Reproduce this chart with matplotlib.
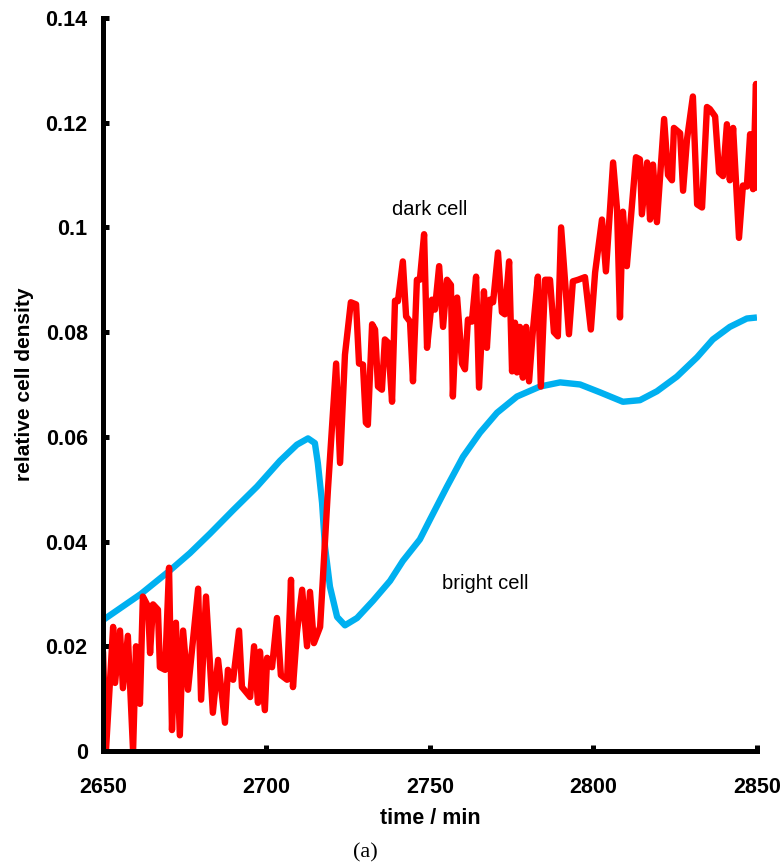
"""
Relative cell density of a dark and a bright cell over time, redrawn from a figure.
"""
import matplotlib
matplotlib.use("Agg")
import matplotlib.pyplot as plt

# dark cell (red)
dark_time = [
    2650.0, 2650.9, 2653.1, 2653.7, 2655.2, 2656.1, 2657.6, 2659.2, 2660.1, 2661.3,
    2662.2, 2663.8, 2664.4, 2665.3, 2666.8, 2667.4, 2669.0, 2670.2, 2671.1, 2672.3,
    2673.5, 2674.5, 2676.0, 2679.1, 2680.0, 2681.5, 2683.6, 2685.2, 2687.3, 2688.2,
    2689.8, 2691.6, 2692.5, 2695.0, 2696.2, 2697.4, 2698.0, 2699.5, 2700.2, 2701.7,
    2703.2, 2704.4, 2706.3, 2707.5, 2708.1, 2709.3, 2710.9, 2712.4, 2713.3, 2714.5,
    2716.4, 2718.8, 2721.3, 2722.5, 2724.0, 2725.8, 2727.4, 2728.3, 2729.5, 2730.4,
    2731.0, 2732.3, 2733.2, 2734.1, 2735.3, 2736.2, 2737.2, 2738.4, 2739.3, 2740.2,
    2741.7, 2742.7, 2743.9, 2744.8, 2746.0, 2746.9, 2748.2, 2749.1, 2750.6, 2751.5,
    2752.8, 2754.0, 2755.2, 2756.4, 2757.0, 2758.3, 2759.8, 2760.7, 2761.6, 2762.8,
    2764.1, 2765.0, 2766.5, 2767.4, 2768.3, 2769.3, 2770.8, 2772.0, 2772.9, 2774.2,
    2775.1, 2776.0, 2776.6, 2777.5, 2778.4, 2779.4, 2780.3, 2781.5, 2783.0, 2783.9,
    2785.2, 2786.7, 2787.9, 2789.1, 2790.1, 2792.5, 2793.7, 2795.3, 2797.4, 2799.2,
    2800.5, 2802.6, 2803.8, 2806.0, 2807.2, 2808.1, 2809.0, 2810.2, 2813.0, 2814.2,
    2814.8, 2816.4, 2817.3, 2818.2, 2819.4, 2821.6, 2822.8, 2824.0, 2824.6, 2826.5,
    2827.4, 2828.6, 2830.4, 2831.7, 2833.2, 2834.7, 2835.6, 2837.2, 2838.4, 2839.6,
    2840.8, 2841.7, 2842.7, 2844.5, 2845.7, 2846.9, 2847.9, 2848.8, 2849.7, 2850.0,
]
dark_density = [
    0.019, 0.000, 0.0237, 0.013, 0.023, 0.012, 0.022, 0.000, 0.020, 0.009,
    0.0295, 0.0276, 0.0187, 0.028, 0.027, 0.016, 0.0155, 0.035, 0.004, 0.0245,
    0.003, 0.023, 0.0117, 0.031, 0.0098, 0.0295, 0.0073, 0.0174, 0.0054, 0.0155,
    0.0136, 0.023, 0.0122, 0.0103, 0.020, 0.0092, 0.019, 0.0078, 0.0178, 0.016,
    0.0254, 0.0145, 0.0136, 0.0327, 0.0122, 0.0226, 0.0308, 0.020, 0.0304, 0.0206,
    0.0237, 0.050, 0.074, 0.055, 0.0757, 0.0857, 0.0853, 0.074, 0.0738, 0.0627,
    0.0623, 0.0815, 0.0805, 0.0696, 0.069, 0.0786, 0.078, 0.0667, 0.086, 0.0859,
    0.0935, 0.083, 0.082, 0.0706, 0.090, 0.090, 0.0987, 0.077, 0.0862, 0.0843,
    0.0926, 0.081, 0.090, 0.089, 0.0677, 0.0866, 0.074, 0.0729, 0.0824, 0.082,
    0.0906, 0.0694, 0.0878, 0.077, 0.0862, 0.0857, 0.0952, 0.0838, 0.0834, 0.0935,
    0.0725, 0.0818, 0.0723, 0.081, 0.0713, 0.081, 0.0706, 0.0805, 0.0906, 0.0696,
    0.090, 0.090, 0.080, 0.0792, 0.100, 0.0796, 0.0897, 0.090, 0.0905, 0.0805,
    0.0914, 0.1015, 0.0916, 0.1124, 0.1035, 0.0828, 0.103, 0.0926, 0.1134, 0.113,
    0.1025, 0.1124, 0.1015, 0.112, 0.101, 0.1207, 0.110, 0.109, 0.119, 0.118,
    0.107, 0.1168, 0.125, 0.1044, 0.1038, 0.123, 0.1226, 0.1212, 0.1105, 0.1098,
    0.1197, 0.109, 0.119, 0.098, 0.108, 0.1078, 0.1178, 0.1073, 0.1274, 0.107,
]

# bright cell (blue)
bright_time = [
    2650.0, 2661.6, 2670.5, 2676.6, 2682.7, 2689.8, 2697.1, 2704.1, 2709.3, 2712.7,
    2714.8, 2715.7, 2717.0, 2717.9, 2719.4, 2721.6, 2724.0, 2727.7, 2732.6, 2737.8,
    2741.7, 2746.9, 2750.0, 2755.2, 2760.1, 2765.3, 2770.5, 2776.6, 2783.6, 2789.8,
    2795.9, 2802.0, 2809.0, 2814.2, 2819.4, 2825.5, 2831.7, 2836.5, 2841.7, 2846.9,
    2850.0,
]
bright_density = [
    0.025, 0.0300, 0.0345, 0.0378, 0.0415, 0.046, 0.0505, 0.0554, 0.0585, 0.0597,
    0.0588, 0.055, 0.0474, 0.039, 0.0314, 0.0256, 0.024, 0.0254, 0.0287, 0.0325,
    0.0363, 0.0404, 0.0442, 0.0505, 0.0562, 0.0608, 0.0646, 0.0677, 0.0696, 0.0704,
    0.070, 0.0685, 0.0667, 0.067, 0.0687, 0.0715, 0.0752, 0.0786, 0.081, 0.0826,
    0.0828,
]

y_ticks = [0, 0.02, 0.04, 0.06, 0.08, 0.1, 0.12, 0.14]
y_tick_labels = ["0", "0.02", "0.04", "0.06", "0.08", "0.1", "0.12", "0.14"]
x_ticks = [2650, 2700, 2750, 2800, 2850]


def plot_cells(output_path):
    """Draw both cell curves with the labels and save the figure."""
    plt.rcParams["font.family"] = ["Liberation Sans", "DejaVu Sans"]

    fig = plt.figure(figsize=(7.82, 8.68), dpi=100)
    ax = fig.add_axes([0.1317, 0.1348, 0.8363, 0.8445])

    # blue first so the red one sits on top
    ax.plot(bright_time, bright_density, color="#00B0F0", linewidth=4.6,
            solid_joinstyle="round", solid_capstyle="butt")
    ax.plot(dark_time, dark_density, color="#FF0000", linewidth=4.6,
            solid_joinstyle="round", solid_capstyle="butt")

    ax.set_xlim(2650, 2850)
    ax.set_ylim(0, 0.14)

    ax.set_xticks(x_ticks)
    ax.set_yticks(y_ticks)
    ax.set_yticklabels(y_tick_labels)

    for side in ["top", "right"]:
        ax.spines[side].set_visible(False)
    for side in ["left", "bottom"]:
        ax.spines[side].set_linewidth(3.6)
        ax.spines[side].set_color("black")

    ax.tick_params(axis="both", direction="in", length=4, width=3.6,
                   labelsize=15.5)
    ax.tick_params(axis="y", pad=11)
    ax.tick_params(axis="x", pad=19)
    for lab in ax.get_xticklabels() + ax.get_yticklabels():
        lab.set_fontweight("bold")

    ax.set_xlabel("time / min", fontsize=15.5, fontweight="bold", labelpad=7)
    ax.set_ylabel("relative cell density", fontsize=15, fontweight="bold",
                  labelpad=8)

    ax.text(2750.0, 0.1034, "dark cell", fontsize=14.5, ha="center", va="center")
    ax.text(2766.8, 0.0320, "bright cell", fontsize=14.5, ha="center", va="center")

    fig.text(0.467, 0.018, "(a)", fontsize=16, family="Liberation Serif",
             ha="center", va="center")

    fig.savefig(output_path, dpi=100)
    plt.close(fig)


if __name__ == "__main__":
    plot_cells("out.png")
